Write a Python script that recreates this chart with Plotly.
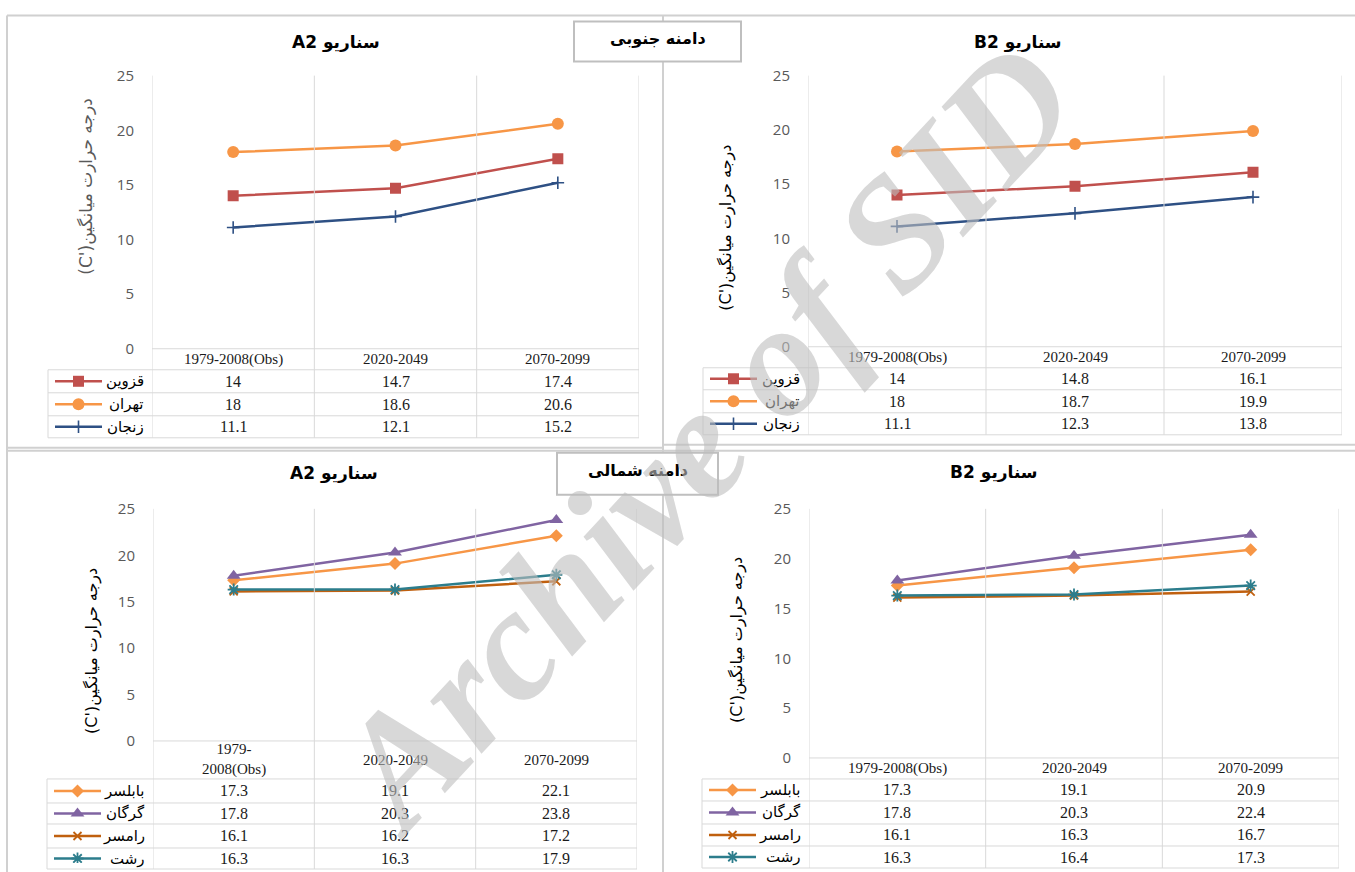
import plotly.graph_objects as go

W, H = 1355, 872

# ---------------- data ----------------
periods = ["1979-2008(Obs)", "2020-2049", "2070-2099"]
periods_wrapped = ["1979-<br>2008(Obs)", "2020-2049", "2070-2099"]
y_ticks = [0, 5, 10, 15, 20, 25]

south_cities = ["قزوین", "تهران", "زنجان"]
north_cities = ["بابلسر", "گرگان", "رامسر", "رشت"]

qazvin_a2 = [14, 14.7, 17.4]
tehran_a2 = [18, 18.6, 20.6]
zanjan_a2 = [11.1, 12.1, 15.2]

qazvin_b2 = [14, 14.8, 16.1]
tehran_b2 = [18, 18.7, 19.9]
zanjan_b2 = [11.1, 12.3, 13.8]

babolsar_a2 = [17.3, 19.1, 22.1]
gorgan_a2 = [17.8, 20.3, 23.8]
ramsar_a2 = [16.1, 16.2, 17.2]
rasht_a2 = [16.3, 16.3, 17.9]

babolsar_b2 = [17.3, 19.1, 20.9]
gorgan_b2 = [17.8, 20.3, 22.4]
ramsar_b2 = [16.1, 16.3, 16.7]
rasht_b2 = [16.3, 16.4, 17.3]

title_a2 = "A2 سناریو"
title_b2 = "B2 سناریو"
y_title = "(C')درجه حرارت میانگین"
box_south = "دامنه جنوبی"
box_north = "دامنه شمالی"
watermark = "Archive of SID"

# ---------------- styles ----------------
south_styles = [
    dict(color="#C0504D", symbol="square", size=11, lw=0),
    dict(color="#F79646", symbol="circle", size=12, lw=0),
    dict(color="#2E5084", symbol="cross-thin-open", size=9, lw=1.6),
]
north_styles = [
    dict(color="#F79646", symbol="diamond", size=10, lw=0),
    dict(color="#8064A2", symbol="triangle-up", size=12, lw=0),
    dict(color="#C0600F", symbol="x-thin-open", size=8, lw=1.8),
    dict(color="#2C7D8C", symbol="asterisk-open", size=10, lw=1.8),
]

GRID = "#D9D9D9"
SERIF = "Liberation Serif"
ARAB = "DejaVu Sans"

panels = [
    dict(n=1, x0=152, x1=639, top=75, bot=348, tleft=48, rows=[348, 369, 392, 415, 437],
         cities=south_cities, series=[qazvin_a2, tehran_a2, zanjan_a2], styles=south_styles,
         headers=periods, title=title_a2, tpos=(336, 42),
         ytpos=(86, 186), ytcolor="#595959", ytsize=17),
    dict(n=2, x0=808, x1=1342, top=75, bot=346, tleft=703, rows=[346, 367, 389, 412, 434],
         cities=south_cities, series=[qazvin_b2, tehran_b2, zanjan_b2], styles=south_styles,
         headers=periods, title=title_b2, tpos=(1018, 42),
         ytpos=(726, 227), ytcolor="#000000", ytsize=16),
    dict(n=3, x0=153, x1=637, top=508, bot=740, tleft=47, rows=[740, 778, 802, 823, 847, 868],
         cities=north_cities, series=[babolsar_a2, gorgan_a2, ramsar_a2, rasht_a2], styles=north_styles,
         headers=periods_wrapped, title=title_a2, tpos=(334, 473),
         ytpos=(92, 650), ytcolor="#000000", ytsize=16),
    dict(n=4, x0=809, x1=1339, top=508, bot=757, tleft=702, rows=[757, 778, 800, 823, 845, 867],
         cities=north_cities, series=[babolsar_b2, gorgan_b2, ramsar_b2, rasht_b2], styles=north_styles,
         headers=periods, title=title_b2, tpos=(994, 472),
         ytpos=(737, 639), ytcolor="#000000", ytsize=16),
]

# vertical calibration of the captured page (rendered_y = VS * y + VO)
VS, VO = 0.9766, 10.4


def px(x):
    return x / W


def py(y):
    return 1 - ((y - VO) / VS) / H


fig = go.Figure()
shapes = []
annots = []
layout = {}

# panel frames
for (xa, ya, xb, yb) in [(7, 15, 1355, 15), (7, 15, 7, 872), (663, 15, 663, 872),
                         (7, 447, 663, 447), (663, 444, 1355, 444), (7, 450, 1355, 450)]:
    shapes.append(dict(type="line", xref="paper", yref="paper", x0=px(xa), x1=px(xb),
                       y0=py(ya), y1=py(yb), line=dict(color="#D0D0D0", width=2), layer="below"))

for p in panels:
    n = p["n"]
    xs = "" if n == 1 else str(n)
    xa_name, ya_name = "xaxis" + xs, "yaxis" + xs
    xr, yr = "x" + xs, "y" + xs
    layout[xa_name] = dict(domain=[px(p["x0"]), px(p["x1"])], anchor=yr, type="category",
                           categoryorder="array", categoryarray=periods, range=[-0.5, 2.5],
                           showticklabels=False, showgrid=False, zeroline=False, showline=False,
                           fixedrange=True)
    layout[ya_name] = dict(domain=[py(p["bot"]), py(p["top"])], anchor=xr, range=[0, 25],
                           tickvals=y_ticks, showgrid=False, zeroline=False, showline=False,
                           ticks="", ticklabelstandoff=17,
                           tickfont=dict(family="Open Sans", size=15, color="#595959"),
                           fixedrange=True)

    rows = p["rows"]
    for b in [-0.5, 0.5, 1.5, 2.5]:
        shapes.append(dict(type="line", xref=xr, yref="paper", x0=b, x1=b,
                           y0=py(p["top"]), y1=py(rows[-1]), line=dict(color=GRID, width=1)))
    shapes.append(dict(type="line", xref=xr, yref="paper", x0=-0.5, x1=2.5,
                       y0=py(rows[0]), y1=py(rows[0]), line=dict(color=GRID, width=1)))
    for ry in rows[1:]:
        shapes.append(dict(type="line", xref="paper", yref="paper", x0=px(p["tleft"]), x1=px(p["x1"]),
                           y0=py(ry), y1=py(ry), line=dict(color=GRID, width=1)))
    shapes.append(dict(type="line", xref="paper", yref="paper", x0=px(p["tleft"]), x1=px(p["tleft"]),
                       y0=py(rows[1]), y1=py(rows[-1]), line=dict(color=GRID, width=1)))

    for cat, lab in zip(periods, p["headers"]):
        annots.append(dict(x=cat, xref=xr, y=py((rows[0] + rows[1]) / 2), yref="paper",
                           text=lab, showarrow=False, xanchor="center", yanchor="middle",
                           font=dict(family=SERIF, size=15, color="#1a1a1a")))

    for city, vals, st in zip(p["cities"], p["series"], p["styles"]):
        fig.add_trace(go.Scatter(
            x=periods, y=vals, xaxis=xr, yaxis=yr, mode="lines+markers", name=city,
            showlegend=False, line=dict(color=st["color"], width=2.5),
            marker=dict(symbol=st["symbol"], size=st["size"], color=st["color"],
                        line=dict(width=st["lw"], color=st["color"]))))

    for i, (city, vals, st) in enumerate(zip(p["cities"], p["series"], p["styles"])):
        cy = (rows[i + 1] + rows[i + 2]) / 2
        for cat, v in zip(periods, vals):
            annots.append(dict(x=cat, xref=xr, y=py(cy), yref="paper", text=str(v),
                               showarrow=False, xanchor="center", yanchor="middle",
                               font=dict(family=SERIF, size=16, color="#1a1a1a")))
        annots.append(dict(x=px(p["x0"] - 6), xref="paper", y=py(cy), yref="paper", text=city,
                           showarrow=False, xanchor="right", yanchor="middle",
                           font=dict(family=ARAB, size=15, color="#000000")))
        k0, k1 = p["tleft"] + 7, p["tleft"] + 54
        ky = (cy - VO) / VS
        fig.add_trace(go.Scatter(x=[k0, k1], y=[ky, ky], xaxis="x5", yaxis="y5", mode="lines",
                                 showlegend=False, hoverinfo="skip",
                                 line=dict(color=st["color"], width=2.5)))
        fig.add_trace(go.Scatter(x=[(k0 + k1) / 2], y=[ky], xaxis="x5", yaxis="y5", mode="markers",
                                 showlegend=False, hoverinfo="skip",
                                 marker=dict(symbol=st["symbol"], size=st["size"], color=st["color"],
                                             line=dict(width=st["lw"], color=st["color"]))))

    annots.append(dict(x=px(p["tpos"][0]), y=py(p["tpos"][1]), xref="paper", yref="paper",
                       text="<b>" + p["title"] + "</b>", showarrow=False,
                       xanchor="center", yanchor="middle",
                       font=dict(family=ARAB, size=17, color="#000000")))
    annots.append(dict(x=px(p["ytpos"][0]), y=py(p["ytpos"][1]), xref="paper", yref="paper",
                       text=y_title, textangle=-90, showarrow=False,
                       xanchor="center", yanchor="middle",
                       font=dict(family=ARAB, size=p["ytsize"], color=p["ytcolor"])))

for (bx0, by0, bx1, by1, txt) in [(574, 21, 741, 61, box_south), (557, 452, 718, 494, box_north)]:
    shapes.append(dict(type="rect", xref="paper", yref="paper", x0=px(bx0), x1=px(bx1),
                       y0=py(by1), y1=py(by0), line=dict(color="#BFBFBF", width=2),
                       fillcolor="white", layer="below"))
    annots.append(dict(x=px((bx0 + bx1) / 2), y=py((by0 + by1) / 2 - 3), xref="paper", yref="paper",
                       text="<b>" + txt + "</b>", showarrow=False, xanchor="center", yanchor="middle",
                       font=dict(family=ARAB, size=16, color="#000000")))

# watermark
annots.append(dict(x=px(703), y=py(436), xref="paper", yref="paper", text=watermark,
                   textangle=-47, showarrow=False, xanchor="center", yanchor="middle",
                   font=dict(family=SERIF, size=160, color="rgba(190,190,190,0.6)",
                             weight="bold", style="italic")))

layout["xaxis5"] = dict(domain=[0, 1], range=[0, W], visible=False, anchor="y5", fixedrange=True)
layout["yaxis5"] = dict(domain=[0, 1], range=[H, 0], visible=False, anchor="x5", fixedrange=True)

fig.update_layout(
    width=W, height=H, autosize=False,
    margin=dict(l=0, r=0, t=0, b=0),
    paper_bgcolor="white", plot_bgcolor="rgba(0,0,0,0)",
    shapes=shapes, annotations=annots, showlegend=False,
    **layout,
)

fig.write_html(
    "out.html",
    config={"displayModeBar": False},
    post_script="document.documentElement.style.margin='0';document.body.style.margin='0';"
                "document.body.style.padding='0';document.documentElement.style.overflow='hidden';"
                "document.body.style.overflow='hidden';",
)
